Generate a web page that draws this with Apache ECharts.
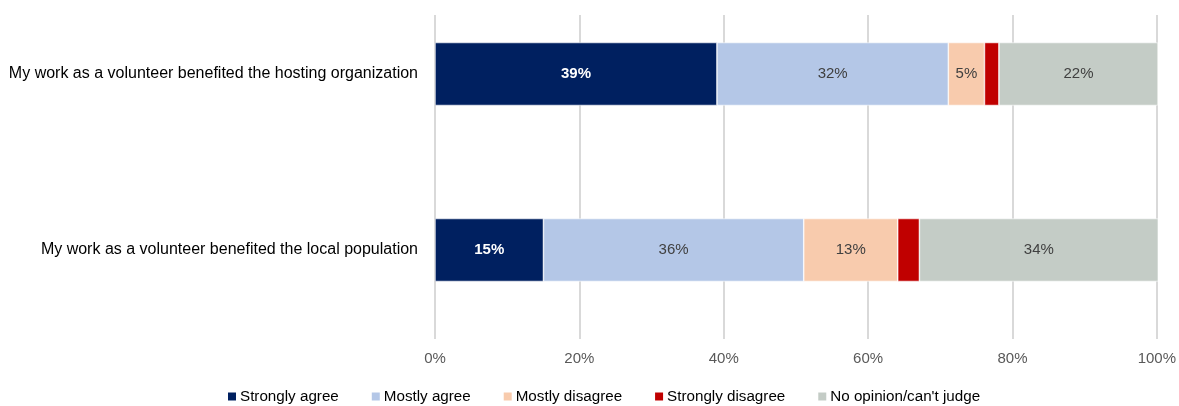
<!DOCTYPE html>
<html><head><meta charset="utf-8">
<script src="https://cdn.jsdelivr.net/npm/echarts@6/dist/echarts.min.js"></script>
<style>html,body{margin:0;padding:0;background:#fff;overflow:hidden;width:1179px;height:406px}#c{position:absolute;left:0;top:-14px;width:1179px;height:420px}</style>
</head><body><div id="c"></div>
<script>
const categories = ["My work as a volunteer benefited the local population", "My work as a volunteer benefited the hosting organization"];
const seriesNames = ["Strongly agree", "Mostly agree", "Mostly disagree", "Strongly disagree", "No opinion/can't judge"];
const stronglyAgree = [15, 39];
const mostlyAgree = [36, 32];
const mostlyDisagree = [13, 5];
const stronglyDisagree = [3, 2];
const noOpinion = [34, 22];
const tickValues = [0, 20, 40, 60, 80, 100];

const colors = ["#002060", "#B4C7E7", "#F8CBAD", "#C00000", "#C4CCC6"];
const seriesData = [stronglyAgree, mostlyAgree, mostlyDisagree, stronglyDisagree, noOpinion];
const font = "'Liberation Sans', 'DejaVu Sans', sans-serif";

const chart = echarts.init(document.getElementById('c'));
chart.setOption({
  animation: false,
  textStyle: {fontFamily: font},
  grid: [
    {left: 435, right: 21, top: 29, bottom: 67},
    {left: 435, right: 21, top: 0, bottom: 68}
  ],
  xAxis: [
    {gridIndex: 0, type: 'value', min: tickValues[0], max: tickValues[tickValues.length - 1], interval: 20,
     axisLine: {show: false}, axisTick: {show: false},
     splitLine: {lineStyle: {color: '#D9D9D9', width: 2}},
     axisLabel: {formatter: v => v + '%', color: '#595959', fontSize: 15, margin: 12, fontFamily: font}},
    {gridIndex: 1, type: 'value', min: 0, max: 100, show: false, splitLine: {show: false}}
  ],
  yAxis: [
    {gridIndex: 0, type: 'category', data: categories, show: false},
    {gridIndex: 1, type: 'category', data: categories,
     axisLine: {show: false}, axisTick: {show: false},
     axisLabel: {color: '#000', fontSize: 16, margin: 17, fontFamily: font}}
  ],
  legend: {
    top: 403, left: 226, itemWidth: 10, itemHeight: 10, itemGap: 31,
    icon: 'rect', padding: 0,
    textStyle: {color: '#000', fontSize: 15.2, fontFamily: font, padding: [0, 0, 0, -2]},
    data: seriesNames
  },
  series: seriesNames.map((name, i) => ({
    name, type: 'bar', stack: 'total', xAxisIndex: 1, yAxisIndex: 1,
    barWidth: 63,
    data: seriesData[i],
    itemStyle: {color: colors[i], borderColor: '#fff', borderWidth: 0.6},
    label: {
      show: i !== 3, position: 'inside',
      formatter: p => p.value + '%',
      color: i === 0 ? '#fff' : '#404040',
      fontWeight: i === 0 ? 'bold' : 'normal',
      fontSize: 15, fontFamily: font
    }
  }))
});
</script></body></html>
